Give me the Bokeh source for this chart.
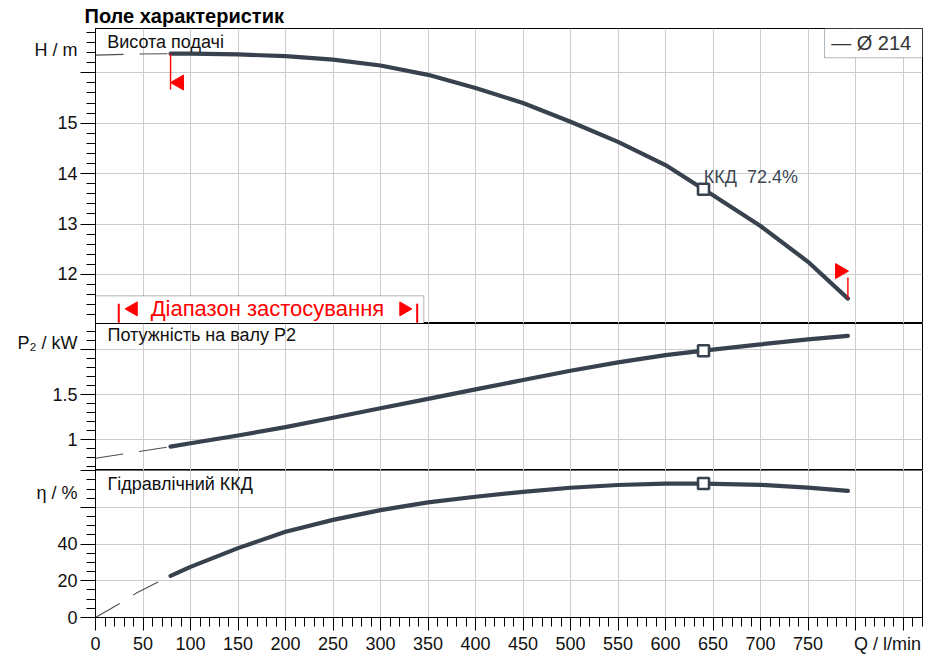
import math
from bokeh.plotting import figure
from bokeh.models import (Range1d, FixedTicker, Grid, Label, BoxAnnotation,
                          LinearAxis, Title, CustomLabelingPolicy)
from bokeh.layouts import column
from bokeh.embed import file_html
from bokeh.resources import INLINE

# ---------------- data ----------------
q_head = [79, 100, 150, 200, 250, 300, 350, 400, 450, 500, 550, 600, 640, 650, 700, 750, 792]
head = [16.38, 16.38, 16.365, 16.33, 16.26, 16.145, 15.96, 15.70, 15.40, 15.03, 14.63, 14.17, 13.69, 13.57, 12.96, 12.25, 11.52]
q_head_ext = [0, 40, 79]
head_ext = [16.35, 16.37, 16.38]

q_power = [79, 100, 150, 200, 250, 300, 350, 400, 450, 500, 550, 600, 640, 700, 750, 792]
power = [0.925, 0.962, 1.048, 1.141, 1.245, 1.350, 1.455, 1.560, 1.664, 1.767, 1.860, 1.940, 1.990, 2.060, 2.115, 2.155]
q_power_ext = [0, 40, 79]
power_ext = [0.795, 0.860, 0.925]

q_eff = [79, 100, 150, 200, 250, 300, 350, 400, 450, 500, 550, 600, 640, 700, 750, 792]
eff = [22.7, 27.6, 37.8, 46.7, 53.2, 58.5, 62.7, 65.8, 68.5, 70.7, 72.2, 72.9, 73.0, 72.3, 70.8, 69.0]
q_eff_ext = [0, 27, 43, 79]
eff_ext = [0.0, 8.1, 13.3, 22.7]

bep_q = [640]
bep_head = [13.69]
bep_power = [1.99]
bep_eff = [73.0]
bep_label = "ККД \u00a072.4%"
legend_label = "— Ø 214"
chart_title = "Поле характеристик"

x_major = list(range(0, 851, 50))
x_minor = list(range(0, 871, 10))
x_label_ticks = list(range(0, 751, 50))

h_major = [12, 13, 14, 15, 16]
p_major = [1, 1.5, 2]
e_major = [0, 20, 40, 60, 80]

# ---------------- style ----------------
CURVE = "#38424e"
THIN = "#4a4f57"
GRID = "#cdcdcd"
FONT = "Liberation Sans"
RED = "#ff0000"
TXT = "#111111"

x_range = Range1d(0, 870.5)


def no_labels():
    return CustomLabelingPolicy(code="return []")


def make_fig(y0, y1, frame_h, top, bottom, xaxis):
    p = figure(x_range=x_range, y_range=Range1d(y0, y1), frame_width=827,
               frame_height=frame_h, min_border_left=95, min_border_right=1,
               min_border_top=top, min_border_bottom=bottom,
               toolbar_location=None, output_backend="svg", title=None,
               x_axis_location="below" if xaxis else None)
    p.background_fill_color = "white"
    p.border_fill_color = "white"
    p.outline_line_color = "black"
    p.outline_line_alpha = 1.0
    p.outline_line_width = 1
    p.center = [r for r in p.center if not isinstance(r, Grid)]
    p.add_layout(Grid(dimension=0, ticker=FixedTicker(ticks=x_major),
                      grid_line_color=GRID, grid_line_width=1))
    return p


def style_yaxis(p, major, minor, label_ticks, unit_tick, unit_text):
    ax = p.yaxis[0]
    ax.ticker = FixedTicker(ticks=major, minor_ticks=minor)
    ax.axis_line_color = "black"
    ax.major_tick_line_color = "black"
    ax.minor_tick_line_color = "black"
    ax.major_tick_in = 0
    ax.major_tick_out = 15
    ax.minor_tick_in = 0
    ax.minor_tick_out = 9
    ax.major_label_text_font_size = "0px"
    ax.major_label_standoff = 0
    ax.major_label_policy = no_labels()
    p.add_layout(Grid(dimension=1, ticker=FixedTicker(ticks=major),
                      grid_line_color=GRID, grid_line_width=1))
    # labels axis (numbers + unit text), no marks
    lab_ax = LinearAxis(ticker=FixedTicker(ticks=label_ticks + [unit_tick], minor_ticks=[]),
                        axis_line_color=None, major_tick_line_color=None,
                        minor_tick_line_color=None, major_tick_in=0, major_tick_out=0,
                        minor_tick_in=0, minor_tick_out=0,
                        major_label_text_font=FONT, major_label_text_font_size="18px",
                        major_label_text_color=TXT, major_label_standoff=3,
                        major_label_overrides={unit_tick: unit_text})
    p.add_layout(lab_ax, "left")


def lab(p, x, y, text, size="18px", color=TXT, style="normal", align="left"):
    p.add_layout(Label(x=x, y=y, text=text, text_font=FONT, text_font_size=size,
                       text_color=color, text_font_style=style, text_align=align,
                       text_baseline="middle"))


def curves(p, qx, qy, ex, ey, bq, by):
    p.line(ex, ey, line_color=THIN, line_width=1.1, line_dash="28 16")
    p.line(qx, qy, line_color=CURVE, line_width=4.2, line_cap="round", line_join="round")
    p.scatter(bq, by, marker="square", size=11, line_color=CURVE, line_width=2.6,
              fill_color="white")


# ---------------- top panel: head ----------------
p1 = make_fig(11.026, 16.879, 295, 28, 0, False)
style_yaxis(p1, h_major, [round(11.2 + 0.2 * i, 2) for i in range(29)],
            [12, 13, 14, 15], 16.443, "H / m")
p1.add_layout(Title(text=chart_title, align="left", vertical_align="top", offset=-11,
                    standoff=0, text_font=FONT, text_font_size="20px",
                    text_font_style="bold", text_color="black"), "above")

box = BoxAnnotation(left=0, right=345.6, bottom=11.026, top=11.575,
                    fill_color="white", fill_alpha=1.0, line_color="black",
                    line_width=1, level="underlay")
p1.add_layout(box)

curves(p1, q_head, head, q_head_ext, head_ext, bep_q, bep_head)

# operating-range markers
p1.segment(x0=[q_head[0]], y0=[head[0]], x1=[q_head[0]], y1=[15.67],
           line_color=RED, line_width=1.4)
p1.scatter([q_head[0] + 9.1], [15.807], marker="triangle", size=15,
           angle=math.pi / 2, color=RED)
p1.segment(x0=[q_head[-1]], y0=[head[-1]], x1=[q_head[-1]], y1=[11.94],
           line_color=RED, line_width=1.4)
p1.scatter([q_head[-1] - 8.5], [12.066], marker="triangle", size=15,
           angle=-math.pi / 2, color=RED)

# range legend box content
p1.segment(x0=[24.5, 338.6], y0=[11.04, 11.04], x1=[24.5, 338.6], y1=[11.42, 11.42],
           line_color=RED, line_width=2)
p1.scatter([39.7], [11.316], marker="triangle", size=14, angle=math.pi / 2, color=RED)
p1.scatter([324.6], [11.316], marker="triangle", size=14, angle=-math.pi / 2, color=RED)
lab(p1, 181, 11.316, "Діапазон застосування", size="22px", color=RED, align="center")

lab(p1, 12.3, 16.61, "Висота подачі")
lab(p1, 640.3, 13.93, bep_label, color="#3d4756")

# curve legend box
leg_box = BoxAnnotation(left=767.4, right=870.5, bottom=16.298, top=16.879,
                        fill_color="white", fill_alpha=1.0, line_color="black",
                        line_width=1)
p1.add_layout(leg_box)
lab(p1, 774.4, 16.588, legend_label, size="20px", color="#333333")

# ---------------- middle panel: power ----------------
p2 = make_fig(0.659, 2.292, 147, 0, 0, False)
style_yaxis(p2, p_major, [round(0.7 + 0.1 * i, 2) for i in range(16)],
            [1, 1.5], 2.073, "P₂ / kW")
curves(p2, q_power, power, q_power_ext, power_ext, bep_q, bep_power)
lab(p2, 12.6, 2.159, "Потужність на валу  P2")

# ---------------- bottom panel: efficiency ----------------
p3 = make_fig(0, 80.1, 147, 0, 36, True)
style_yaxis(p3, e_major, [5 * i for i in range(17)], [0, 20, 40], 68.1, "η / %")
xa = p3.xaxis[0]
xa.ticker = FixedTicker(ticks=x_major, minor_ticks=x_minor)
xa.axis_line_color = "black"
xa.major_tick_in = 0
xa.major_tick_out = 13
xa.minor_tick_in = 0
xa.minor_tick_out = 9
xa.major_tick_line_color = "black"
xa.minor_tick_line_color = "black"
xa.major_label_text_font_size = "0px"
xa.major_label_standoff = 0
xa.major_label_policy = no_labels()
xlab = LinearAxis(ticker=FixedTicker(ticks=x_label_ticks + [833.7], minor_ticks=[]),
                  axis_line_color=None, major_tick_line_color=None,
                  minor_tick_line_color=None, major_tick_in=0, major_tick_out=0,
                  minor_tick_in=0, minor_tick_out=0,
                  major_label_text_font=FONT, major_label_text_font_size="18px",
                  major_label_text_color=TXT, major_label_standoff=3,
                  major_label_overrides={833.7: "Q / l/min"})
p3.add_layout(xlab, "below")
curves(p3, q_eff, eff, q_eff_ext, eff_ext, bep_q, bep_eff)
lab(p3, 12.6, 73.0, "Гідравлічний ККД")

layout = column(p1, p2, p3, spacing=0)
open("out.html", "w").write(file_html(layout, INLINE))
